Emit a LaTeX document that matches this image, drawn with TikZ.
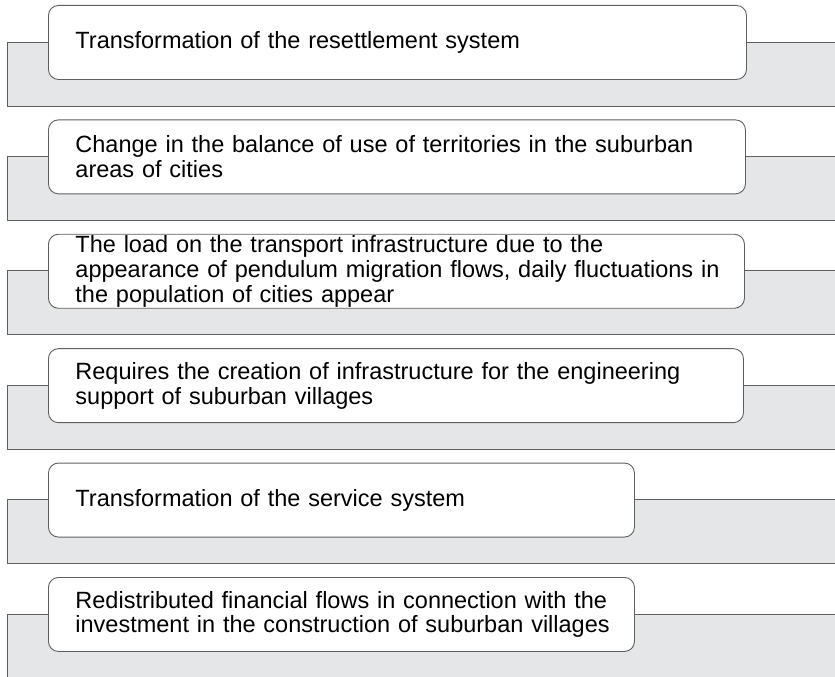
\documentclass[tikz,border=0pt]{standalone}
\usepackage{fontspec}
\setmainfont{Liberation Sans}
\definecolor{bandgray}{RGB}{229,230,232}
\definecolor{linegray}{RGB}{95,95,95}
\tikzset{
  itembox/.style={draw=linegray, fill=white, rounded corners=10pt, line width=0.9pt,
    minimum height=74pt, inner xsep=8pt, inner ysep=0pt, align=left,
    anchor=north west, font=\fontsize{23.5}{24.8}\selectfont,
    execute at begin node={\leftskip=19pt\relax}},
  bandline/.style={draw=linegray, line width=0.9pt}
}

\begin{document}
\begin{tikzpicture}[x=1pt,y=-1pt]
        \useasboundingbox (0,0) rectangle (835,677);
        \foreach \i/\w/\txt in {
            0/698/{Transformation of the resettlement system},
            1/697/{Change in the balance of use of territories in the suburban\\areas of cities},
            2/696/{The load on the transport infrastructure due to the\\appearance of pendulum migration flows, daily fluctuations in\\the population of cities appear},
            3/695/{Requires the creation of infrastructure for the engineering\\support of suburban villages},
            4/586/{Transformation of the service system},
            5/586/{Redistributed financial flows in connection with the\\investment in the construction of suburban villages}}{
            \pgfmathsetmacro\rowtop{5+114.4*\i}
            \pgfmathsetmacro\tw{\w-16}
            \fill[bandgray] (7,\rowtop+37) rectangle (836,\rowtop+101);
            \draw[bandline] (836,\rowtop+37) -- (7,\rowtop+37) -- (7,\rowtop+101) -- (836,\rowtop+101);
            \node[itembox, text width=\tw pt] (item\i) at (48,\rowtop) {\txt};
        }
\end{tikzpicture}
\end{document}
